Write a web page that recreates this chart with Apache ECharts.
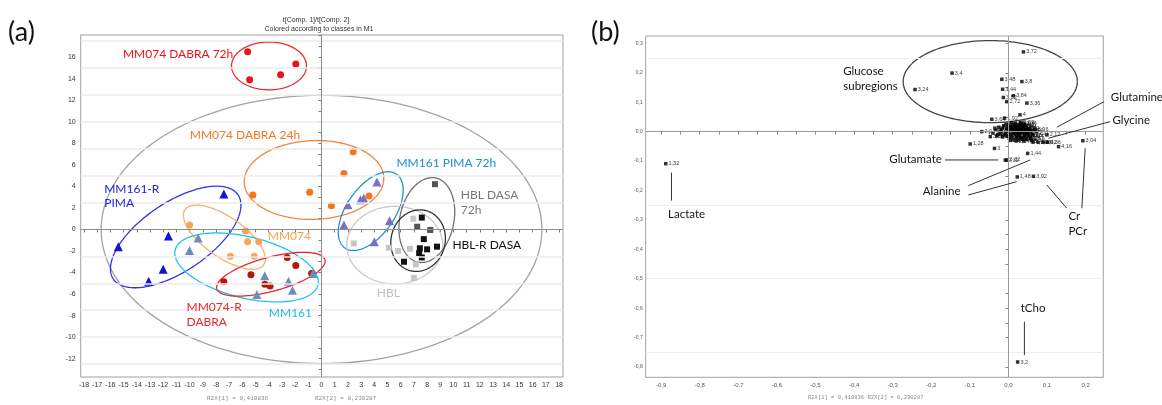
<!DOCTYPE html>
<html><head><meta charset="utf-8">
<script src="https://cdn.jsdelivr.net/npm/echarts@6/dist/echarts.min.js"></script>
<style>html,body{margin:0;padding:0;background:#fff}#c{width:1162px;height:405px}</style>
</head><body><div id="c"></div>
<script>
// ================= Panel (a): PCA scores [t1, t2] =================
const mm074Dabra72h = [[-5.6,16.5],[-5.45,13.9],[-3.1,14.35],[-1.95,15.35]];
const mm074Dabra24h = [[-5.2,3.2],[-0.9,3.45],[2.4,7.2],[1.7,5.2],[0.75,2.2],[3.6,3.1]];
const mm161RPima    = [[-7.4,3.3],[-11.6,-0.6],[-15.4,-1.6],[-12.0,-3.7],[-13.1,-4.8]];
const mm074         = [[-10.0,0.4],[-5.75,-0.15],[-5.6,-1.15],[-4.75,-1.15],[-6.9,-2.5],[-5.1,-2.5]];
const mm074RDabra   = [[-7.4,-4.85],[-5.35,-4.2],[-4.3,-5.1],[-3.9,-5.25],[-2.6,-2.6],[-1.95,-3.35],[-0.75,-4.1]];
const mm161         = [[-9.35,-0.8],[-10.0,-1.95],[-4.3,-4.3],[-4.9,-6.05],[-2.5,-4.8],[-2.2,-5.65],[-0.65,-4.1]];
const mm161Pima72h  = [[4.2,4.4],[2.95,2.75],[3.2,2.9],[2.0,2.3],[1.7,0.4],[5.15,0.8],[4.0,-1.15]];
const hbl           = [[2.45,-1.3],[5.1,-1.7],[5.8,-2.0],[6.7,-1.8],[6.95,1.0],[7.15,-3.25],[7.0,-4.5]];
const hblDasa72h    = [[8.6,4.2],[7.25,0.25],[8.25,-0.05]];
const hblRDasa      = [[7.6,1.1],[7.75,-0.9],[7.45,-1.75],[8.0,-1.85],[8.75,-1.6],[7.4,-2.2],[7.6,-2.6],[6.25,-3.0]];

const xLabelsA = [-18,-17,-16,-15,-14,-13,-12,-11,-10,-9,-8,-7,-6,-5,-4,-3,-2,-1,0,1,2,3,4,5,6,7,8,9,10,11,12,13,14,15,16,17,18];
const yLabelsA = [-12,-10,-8,-6,-4,-2,0,2,4,6,8,10,12,14,16];
const yTicksA  = [-13,-12,-11,-10,-9,-8,-7,-6,-5,-4,-3,-2,-1,0,1,2,3,4,5,6,7,8,9,10,11,12,13,14,15,16,17,18];
const gridLinesA = [-12.5,-10,-7.5,-5,-2.5,2.5,5,7.5,10,12.5,15,17.5];

// ================= Panel (b): loadings [label, p1, p2] =================
const loadings = [
 ['3,72',0.039,0.271],['3,4',-0.146,0.199],['3,24',-0.242,0.143],['3,48',-0.017,0.178],['3,8',0.035,0.170],
 ['3,44',-0.015,0.144],['3,84',0.013,0.122],['3,52',-0.013,0.116],['2,72',-0.004,0.102],['3,36',0.048,0.097],
 ['4',0.030,0.057],['1,92',-0.010,0.046],['3,64',-0.043,0.042],['3,76',0.039,0.026],['3,96',0.069,0.008],
 ['2,44',0.063,-0.011],['2,12',0.100,-0.011],['4,24',0.064,-0.036],['4,28',0.077,-0.036],['4,32',0.090,-0.036],
 ['4,36',0.101,-0.036],['4,16',0.130,-0.051],['3,04',0.193,-0.031],['1,28',-0.099,-0.042],['3',-0.036,-0.057],
 ['1,44',0.050,-0.074],['3,32',-0.004,-0.096],['2,32',-0.008,-0.097],['1,48',0.023,-0.154],['3,92',0.065,-0.152],
 ['1,32',-0.888,-0.109],['3,2',0.024,-0.783],['2,04',-0.069,0.000],['3,08',-0.047,-0.017],['3,12',-0.030,-0.015],
 ['3,06',-0.025,0.015],['2,68',-0.018,0.005],['3,16',-0.012,0.020],['2,92',-0.008,-0.005],['2,56',-0.004,0.010],
 ['3,28',0.000,0.000],['2,08',0.004,0.018],['2,6',0.006,-0.010],['2,16',0.010,0.006],['3,56',0.012,0.022],
 ['2,2',0.015,-0.004],['2,64',0.018,0.012],['2,48',0.020,-0.015],['2,24',0.022,0.003],['2,76',0.025,0.017],
 ['2,36',0.028,-0.008],['1,96',0.030,0.008],['2,52',0.033,-0.020],['2,8',0.035,0.000],['2,84',0.038,0.014],
 ['2,4',0.041,-0.012],['2,88',0.044,0.005],['2,28',0.047,-0.025],['2,96',0.050,-0.003],['3,0',0.053,0.010],
 ['4,04',0.056,-0.018],['4,12',0.060,-0.030],['1,88',0.002,-0.022],['3,1',-0.015,-0.018],['1,84',0.026,-0.028],
 ['1,8',0.012,-0.028],['4,08',0.040,-0.032],['3,14',-0.020,-0.008],['3,6',0.017,0.028],['3,88',0.008,0.030],
 ['1,76',-0.032,0.005],['1,72',-0.040,-0.005],['4,0',0.045,0.020],['3,68',0.032,0.024],
 ['3,18',-0.022,0.000],['3,22',-0.016,0.012],['2,98',-0.010,-0.012],['3,26',-0.006,0.025],['2,94',-0.002,-0.015],
 ['3,3',0.003,0.005],['3,34',0.007,0.014],['2,9',0.009,-0.018],['3,38',0.013,-0.006],['3,42',0.016,0.020],
 ['3,46',0.019,0.001],['2,86',0.021,-0.022],['3,5',0.024,0.010],['2,82',0.027,-0.014],['3,54',0.029,0.019],
 ['3,58',0.031,-0.003],['3,62',0.034,0.011],['2,78',0.036,-0.026],['3,66',0.039,0.002],['2,74',0.042,-0.018],
 ['3,7',0.046,0.012],['2,7',0.048,-0.008],['2,66',0.052,-0.014],['3,74',0.055,0.004],['2,62',0.058,-0.024],
 ['2,58',-0.028,-0.010],['3,78',-0.035,0.012],['2,54',0.005,-0.030],['2,5',0.020,-0.032],['3,82',0.032,0.030],
 ['3,86',0.000,0.022],['2,46',0.011,0.016],['2,42',0.024,-0.002],['2,38',0.043,-0.004],['3,9',0.015,0.008]
];
const xLabelsB = [-0.9,-0.8,-0.7,-0.6,-0.5,-0.4,-0.3,-0.2,-0.1,0,0.1,0.2];
const xTicksB  = [-0.9,-0.85,-0.8,-0.75,-0.7,-0.65,-0.6,-0.55,-0.5,-0.45,-0.4,-0.35,-0.3,-0.25,-0.2,-0.15,-0.1,-0.05,0,0.05,0.1,0.15,0.2];
const yLabelsB = [-0.8,-0.7,-0.6,-0.5,-0.4,-0.3,-0.2,-0.1,0,0.1,0.2,0.3];
const yTicksB  = [-0.8,-0.75,-0.7,-0.65,-0.6,-0.55,-0.5,-0.45,-0.4,-0.35,-0.3,-0.25,-0.2,-0.15,-0.1,-0.05,0,0.05,0.1,0.15,0.2,0.25,0.3];
const gridLinesB = [-0.75,-0.5,-0.25,0.25];

// ================= annotations =================
const ellipsesA = [
 {cx:0, cy:0, rx:16.7, ry:12.45, ang:0, color:'#a3a3a3'},
 {cx:-3.98, cy:15.18, rx:2.84, ry:2.22, ang:0, color:'#ec2a2f'},
 {cx:-0.57, cy:4.59, rx:5.29, ry:3.66, ang:2, color:'#f7843c'},
 {cx:-11.05, cy:-0.7, rx:5.7, ry:3.19, ang:34, color:'#3434e6'},
 {cx:-7.36, cy:-0.72, rx:3.64, ry:1.86, ang:-35, color:'#f9b06a'},
 {cx:-5.68, cy:-3.53, rx:5.57, ry:2.84, ang:-13.8, color:'#1ec3f0'},
 {cx:-3.84, cy:-4.16, rx:4.24, ry:1.58, ang:15, color:'#e8252b'},
 {cx:3.73, cy:1.7, rx:3.41, ry:2.23, ang:55, color:'#1b95d3'},
 {cx:5.55, cy:-1.46, rx:3.64, ry:3.6, ang:0, color:'#c8c8c8'},
 {cx:7.98, cy:0.87, rx:3.26, ry:2.51, ang:78, color:'#707070'},
 {cx:7.32, cy:-1.04, rx:2.35, ry:2.51, ang:75, color:'#333333'}
];
const ellipsesB = [ {cx:-0.047, cy:0.170, rx:0.2257, ry:0.1395, ang:0, color:'#444'} ];

const textsA = [
 ['MM074 DABRA 72h',-15.05,16.28,'#e8141b'],
 ['MM074 DABRA 24h',-9.98,8.77,'#f5761f'],
 ['MM161-R',-16.47,3.75,'#2020e0'],
 ['PIMA',-16.47,2.4,'#2020e0'],
 ['MM074',-4.07,-0.62,'#f7a04a'],
 ['MM161 PIMA 72h',5.68,6.14,'#1a8fd0'],
 ['HBL DASA',10.55,3.19,'#777777'],
 ['72h',10.55,1.8,'#777777'],
 ['HBL-R DASA',9.92,-1.46,'#111111'],
 ['HBL',4.19,-5.95,'#c0c0c0'],
 ['MM074-R',-10.23,-7.2,'#e8252b'],
 ['DABRA',-10.23,-8.6,'#e8252b'],
 ['MM161',-3.99,-7.76,'#1bbbeb']
];
const textsB = [
 ['Glucose',-0.428,0.204],['subregions',-0.428,0.153],['Glutamine',0.2656,0.117],['Glycine',0.2698,0.040],
 ['Glutamate',-0.3087,-0.094],['Alanine',-0.222,-0.204],['Cr',0.1556,-0.289],['PCr',0.1556,-0.340],
 ['tCho',0.032,-0.599],['Lactate',-0.882,-0.281]
];
const leadersB = [
 [0.1256,0.015,0.2482,0.102],[0.1038,-0.0224,0.2638,0.034],[-0.1642,-0.0963,-0.026,-0.0963],
 [-0.1038,-0.1837,0.0563,-0.0963],[-0.1038,-0.2153,0.0218,-0.170],[0.0996,-0.1813,0.1515,-0.2605],
 [0.199,-0.0565,0.1904,-0.2605],[0.0415,-0.646,0.0415,-0.7595],[-0.8732,-0.1395,-0.8732,-0.2347]
];

function ellipseSeries(list, g){
  return {
    type:'custom', xAxisIndex:g, yAxisIndex:g, silent:true, z:3, clip:false,
    data: list.map(e=>[e.cx,e.cy]),
    renderItem: function(params, api){
      const e = list[params.dataIndex];
      const c = api.coord([e.cx, e.cy]);
      const sx = api.size([e.rx, 0])[0], sy = api.size([0, e.ry])[1];
      const th = e.ang*Math.PI/180, pts=[];
      for(let i=0;i<=180;i++){
        const t=i/180*2*Math.PI, ux=sx*Math.cos(t), uy=sy*Math.sin(t);
        pts.push([c[0]+ux*Math.cos(th)-uy*Math.sin(th), c[1]-(ux*Math.sin(th)+uy*Math.cos(th))]);
      }
      return {type:'polyline', shape:{points:pts}, style:{fill:null, stroke:e.color, lineWidth:1.3}};
    }
  };
}
function sc(data, symbol, size, color, z){
  return {type:'scatter', xAxisIndex:0, yAxisIndex:0, data:data, symbol:symbol, symbolSize:size,
          itemStyle:{color:color, opacity:1}, z:z||4};
}
const fmtB = v => (Math.abs(v)<1e-9 ? '0,0' : v.toFixed(1).replace('.', ','));

const option = {
  animation:false,
  backgroundColor:'#fff',
  grid:[
    {left:80.7, right:599, top:35, bottom:28, show:true, borderColor:'#a0a0a0', borderWidth:1, backgroundColor:'transparent'},
    {left:645.7, right:58.7, top:36, bottom:27.7, show:true, borderColor:'#a0a0a0', borderWidth:1, backgroundColor:'transparent'}
  ],
  xAxis:[
    {type:'value', gridIndex:0, min:-18.25, max:18.3, axisLine:{show:false}, splitLine:{show:false},
     axisTick:{customValues:xLabelsA, length:3, lineStyle:{color:'#777'}},
     axisLabel:{customValues:xLabelsA, fontSize:7, color:'#333', margin:5, fontFamily:'Liberation Sans'}},
    {type:'value', gridIndex:1, min:-0.94, max:0.246, axisLine:{show:false}, splitLine:{show:false},
     axisTick:{customValues:xTicksB, length:3, lineStyle:{color:'#888'}},
     axisLabel:{customValues:xLabelsB, formatter:fmtB, fontSize:6, color:'#555', margin:5, fontFamily:'Liberation Sans'}}
  ],
  yAxis:[
    {type:'value', gridIndex:0, min:-13.7, max:18.05, axisLine:{show:false}, splitLine:{show:false},
     axisTick:{customValues:yTicksA, length:3, lineStyle:{color:'#777'}},
     axisLabel:{customValues:yLabelsA, fontSize:7, color:'#333', margin:5, fontFamily:'Liberation Sans'}},
    {type:'value', gridIndex:1, min:-0.835, max:0.325, axisLine:{show:false}, splitLine:{show:false},
     axisTick:{customValues:yTicksB, length:3, lineStyle:{color:'#888'}},
     axisLabel:{customValues:yLabelsB, formatter:fmtB, fontSize:5, color:'#555', margin:3, fontFamily:'Liberation Sans'}}
  ],
  series:[
    {type:'scatter', xAxisIndex:0, yAxisIndex:0, data:[], z:1,
     markLine:{silent:true, symbol:'none', label:{show:false}, animation:false,
       data: gridLinesA.map(v=>({yAxis:v, lineStyle:{color:'#ebebeb', width:1.5, type:'solid'}}))
         .concat([{yAxis:0, lineStyle:{color:'#8c8c8c', width:1, type:'solid'}},
                  {xAxis:0, lineStyle:{color:'#8c8c8c', width:1, type:'solid'}}])}},
    {type:'scatter', xAxisIndex:1, yAxisIndex:1, data:[], z:1,
     markLine:{silent:true, symbol:'none', label:{show:false}, animation:false,
       data: gridLinesB.map(v=>({yAxis:v, lineStyle:{color:'#ececec', width:1.2, type:'solid'}}))
         .concat([{yAxis:0, lineStyle:{color:'#9a9a9a', width:1, type:'solid'}},
                  {xAxis:0, lineStyle:{color:'#9a9a9a', width:1, type:'solid'}}])}},
    ellipseSeries(ellipsesA, 0),
    ellipseSeries(ellipsesB, 1),
    sc(mm074Dabra72h,'circle',7,'#e8141b'),
    sc(mm074Dabra24h,'circle',7,'#f5741d'),
    sc(mm161RPima,'triangle',9,'#1212d8'),
    sc(mm074,'circle',7,'#f8a65a'),
    sc(mm074RDabra,'circle',7,'#b3170d'),
    sc(mm161,'triangle',9,'#6d8dbf'),
    sc(mm161Pima72h,'triangle',9,'#7b6fc6'),
    sc(hbl,'rect',6,'#c6c6c6'),
    sc(hblDasa72h,'rect',6,'#555555'),
    sc(hblRDasa,'rect',6,'#111111'),
    {type:'scatter', xAxisIndex:1, yAxisIndex:1, symbol:'rect', symbolSize:3.5, z:4,
     itemStyle:{color:'#000'},
     data: loadings.map(d=>({value:[d[1],d[2]], name:d[0]})),
     label:{show:true, position:'right', distance:1, formatter:p=>p.name, fontSize:5.5, color:'#000', fontFamily:'Liberation Sans'},
     labelLayout:{hideOverlap:false}}
  ]
};

const chart = echarts.init(document.getElementById('c'));
chart.setOption(option);

const P = (g, x, y) => chart.convertToPixel({gridIndex:g}, [x, y]);
const gfx = [];
textsA.forEach(t=>{
  const p = P(0, t[1], t[2]);
  gfx.push({type:'text', x:p[0], y:p[1], z:10, silent:true,
    style:{text:t[0], fill:t[3], font:'12px Lato', textAlign:'left', textVerticalAlign:'middle', align:'left', verticalAlign:'middle'}});
});
textsB.forEach(t=>{
  const p = P(1, t[1], t[2]);
  gfx.push({type:'text', x:p[0], y:p[1], z:10, silent:true,
    style:{text:t[0], fill:'#151515', font:'11.5px Lato', textAlign:'left', textVerticalAlign:'middle', align:'left', verticalAlign:'middle'}});
});
leadersB.forEach(l=>{
  const a = P(1, l[0], l[1]), b = P(1, l[2], l[3]);
  gfx.push({type:'line', z:10, silent:true, shape:{x1:a[0], y1:a[1], x2:b[0], y2:b[1]}, style:{stroke:'#333', lineWidth:1}});
});
const fixedTexts = [
  ['(a)', 8, 32, '27px Lato', '#111', 'left'],
  ['(b)', 591, 32, '27px Lato', '#111', 'left'],
  ['t[Comp. 1]/t[Comp. 2]', 316, 20, '7px "Liberation Sans"', '#333', 'center'],
  ['Colored according to classes in M1', 319, 29.3, '7px "Liberation Sans"', '#333', 'center'],
  ['R2X[1] = 0,410836', 207, 398, '6px "Liberation Mono"', '#888', 'left'],
  ['R2X[2] = 0,230287', 315, 398, '6px "Liberation Mono"', '#888', 'left'],
  ['R2X[1] = 0,410836 R2X[2] = 0,230287', 808, 397.7, '5.5px "Liberation Mono"', '#888', 'left']
];
fixedTexts.forEach(t=>{
  gfx.push({type:'text', x:t[1], y:t[2], z:10, silent:true,
    style:{text:t[0], fill:t[4], font:t[3], textAlign:t[5], align:t[5], textVerticalAlign:'middle', verticalAlign:'middle'}});
});
chart.setOption({graphic:gfx});
</script>
</body></html>
